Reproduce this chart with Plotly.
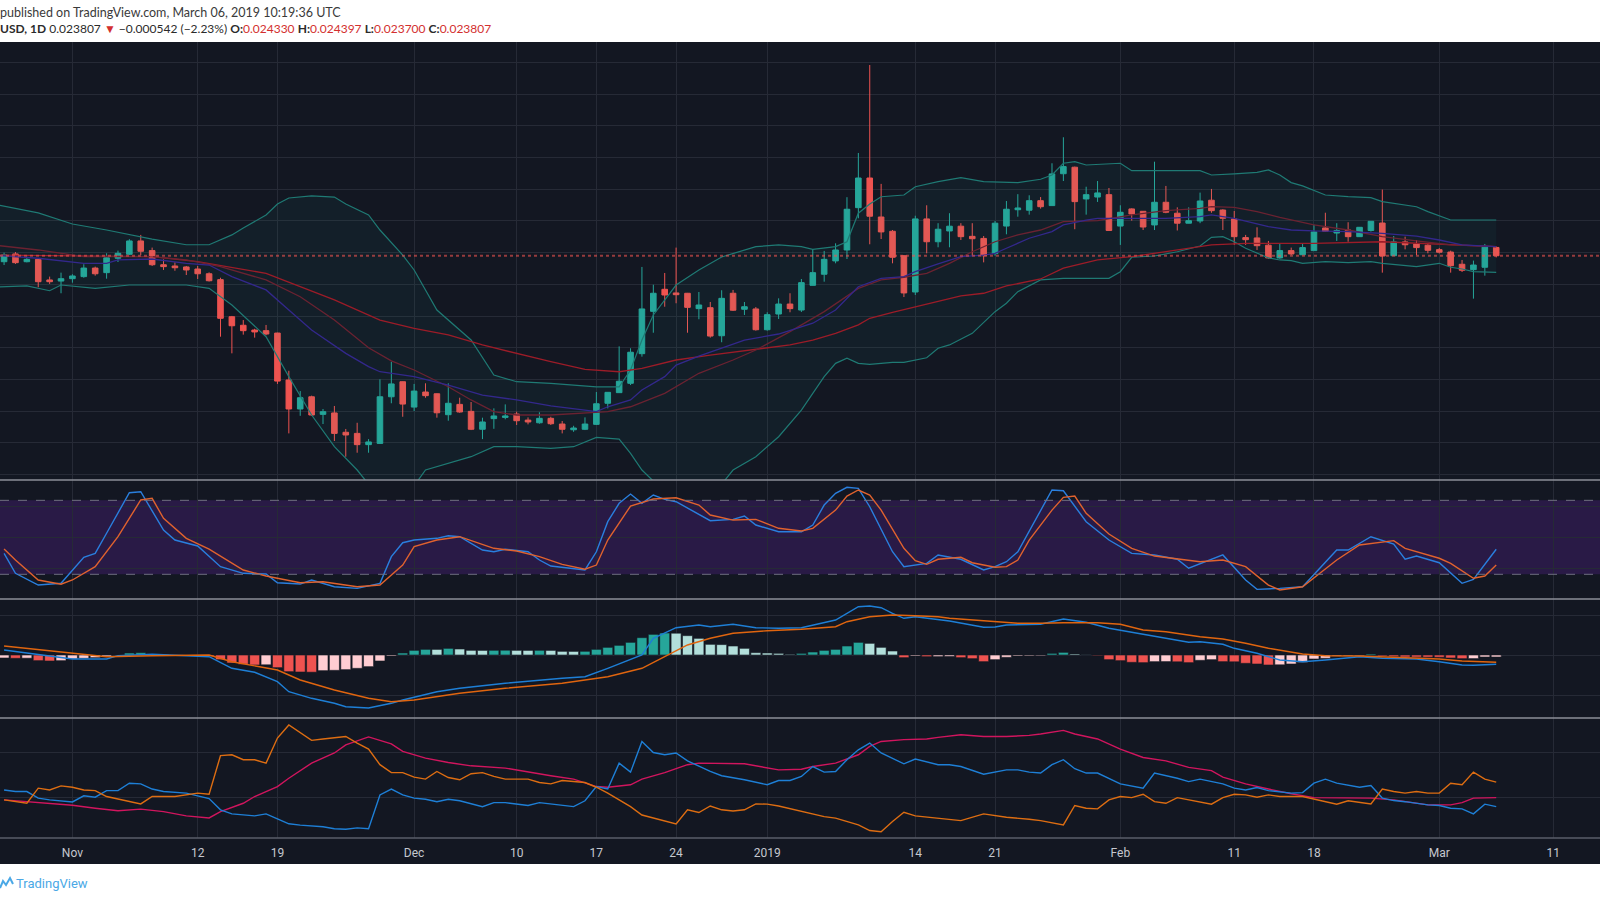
import pandas as pd
import plotly.graph_objects as go
from plotly.subplots import make_subplots

# ---------------- data ----------------
# daily candles, 2018-10-26 .. 2019-03-06
candle_start = "2018-10-26"
candle_end = "2019-03-06"
opens = [0.02343, 0.02392, 0.02343, 0.02358, 0.02228, 0.02221,
         0.02236, 0.02249, 0.02303, 0.02274, 0.02365, 0.02390, 0.02474, 0.02413, 0.02324, 0.02316,
         0.02310, 0.02297, 0.02267, 0.02230, 0.01996, 0.01942, 0.01912, 0.01908, 0.01893, 0.01597,
         0.01414, 0.01491, 0.01380, 0.01389, 0.01267, 0.01260, 0.01189, 0.01197, 0.01491, 0.01586,
         0.01426, 0.01521, 0.01510, 0.01378, 0.01443, 0.01399, 0.01286, 0.01353, 0.01361, 0.01382,
         0.01344, 0.01327, 0.01355, 0.01319, 0.01283, 0.01286, 0.01317, 0.01450, 0.01517, 0.01576,
         0.01763, 0.02030, 0.02169, 0.02146, 0.02144, 0.02047, 0.02053, 0.01876, 0.02144, 0.02043,
         0.02045,
         0.01914, 0.02013, 0.02076, 0.02038, 0.02194, 0.02264, 0.02348, 0.02417, 0.02684, 0.02871,
         0.02625, 0.02535, 0.02381, 0.02152, 0.02613, 0.02469, 0.02537, 0.02567, 0.02503, 0.02490,
         0.02394, 0.02568, 0.02671, 0.02668, 0.02728, 0.02697, 0.02898, 0.02939, 0.02739, 0.02751,
         0.02766,
         0.02568, 0.02676, 0.02661, 0.02575, 0.02718, 0.02649, 0.02586, 0.02600, 0.02731, 0.02669,
         0.02613, 0.02495, 0.02493, 0.02447, 0.02367, 0.02413, 0.02387, 0.02413, 0.02556, 0.02524,
         0.02543, 0.02501, 0.02540, 0.02587, 0.02381, 0.02468, 0.02455, 0.02447,
         0.02419, 0.02404, 0.02327, 0.02293, 0.02308, 0.024330]
highs = [0.02400, 0.02404, 0.02375, 0.02365, 0.02249, 0.02274,
         0.02264, 0.02327, 0.02312, 0.02396, 0.02413, 0.02485, 0.02512, 0.02432, 0.02358, 0.02339,
         0.02316, 0.02316, 0.02276, 0.02242, 0.02001, 0.01975, 0.01920, 0.01944, 0.01895, 0.01655,
         0.01527, 0.01498, 0.01414, 0.01433, 0.01288, 0.01327, 0.01224, 0.01601, 0.01712, 0.01588,
         0.01572, 0.01576, 0.01512, 0.01576, 0.01485, 0.01458, 0.01359, 0.01418, 0.01443, 0.01397,
         0.01361, 0.01393, 0.01365, 0.01338, 0.01308, 0.01361, 0.01521, 0.01521, 0.01809, 0.01797,
         0.02310, 0.02198, 0.02272, 0.02432, 0.02146, 0.02152, 0.02089, 0.02163, 0.02165, 0.02089,
         0.02057,
         0.02024, 0.02112, 0.02144, 0.02234, 0.02423, 0.02411, 0.02459, 0.02750, 0.03029, 0.03584,
         0.02834, 0.02543, 0.02385, 0.02633, 0.02699, 0.02586, 0.02649, 0.02586, 0.02586, 0.02505,
         0.02600, 0.02726, 0.02769, 0.02762, 0.02751, 0.02964, 0.03128, 0.02943, 0.02816, 0.02852,
         0.02808,
         0.02699, 0.02680, 0.02663, 0.02974, 0.02821, 0.02686, 0.02686, 0.02779, 0.02802, 0.02674,
         0.02663, 0.02512, 0.02560, 0.02474, 0.02455, 0.02432, 0.02455, 0.02577, 0.02652, 0.02586,
         0.02592, 0.02562, 0.02600, 0.02798, 0.02505, 0.02501, 0.02480, 0.02455,
         0.02430, 0.02413, 0.02354, 0.02350, 0.02455, 0.024397]
lows = [0.02322, 0.02329, 0.02339, 0.02182, 0.02203, 0.02144,
        0.02211, 0.02242, 0.02255, 0.02236, 0.02341, 0.02385, 0.02385, 0.02316, 0.02291, 0.02286,
        0.02259, 0.02234, 0.02218, 0.01870, 0.01765, 0.01883, 0.01864, 0.01879, 0.01572, 0.01260,
        0.01371, 0.01370, 0.01319, 0.01212, 0.01113, 0.01138, 0.01138, 0.01195, 0.01450, 0.01365,
        0.01401, 0.01485, 0.01359, 0.01340, 0.01390, 0.01281, 0.01224, 0.01289, 0.01349, 0.01313,
        0.01317, 0.01321, 0.01313, 0.01260, 0.01270, 0.01281, 0.01313, 0.01418, 0.01515, 0.01565,
        0.01744, 0.01895, 0.02059, 0.02081, 0.01895, 0.01980, 0.01864, 0.01835, 0.02032, 0.02007,
        0.01908,
        0.01908, 0.01982, 0.02024, 0.02026, 0.02193, 0.02217, 0.02333, 0.02360, 0.02617, 0.02453,
        0.02486, 0.02333, 0.02120, 0.02133, 0.02396, 0.02434, 0.02434, 0.02480, 0.02381, 0.02339,
        0.02381, 0.02516, 0.02627, 0.02640, 0.02678, 0.02695, 0.02852, 0.02548, 0.02640, 0.02720,
        0.02539,
        0.02449, 0.02602, 0.02543, 0.02543, 0.02649, 0.02540, 0.02585, 0.02586, 0.02652, 0.02543,
        0.02449, 0.02449, 0.02417, 0.02362, 0.02362, 0.02385, 0.02385, 0.02411, 0.02531, 0.02474,
        0.02469, 0.02499, 0.02533, 0.02274, 0.02379, 0.02421, 0.02385, 0.02396,
        0.02395, 0.02274, 0.02278, 0.02110, 0.02255, 0.023700]
closes = [0.02386, 0.02337, 0.02358, 0.02217, 0.02217, 0.02236,
          0.02253, 0.02303, 0.02267, 0.02368, 0.02396, 0.02474, 0.02409, 0.02324, 0.02312, 0.02305,
          0.02291, 0.02267, 0.02223, 0.01986, 0.01939, 0.01908, 0.01900, 0.01887, 0.01590, 0.01414,
          0.01485, 0.01376, 0.01397, 0.01260, 0.01250, 0.01189, 0.01206, 0.01491, 0.01572, 0.01445,
          0.01527, 0.01498, 0.01390, 0.01450, 0.01395, 0.01286, 0.01332, 0.01370, 0.01370, 0.01340,
          0.01332, 0.01355, 0.01321, 0.01286, 0.01294, 0.01319, 0.01447, 0.01519, 0.01589, 0.01772,
          0.02045, 0.02144, 0.02133, 0.02135, 0.02055, 0.02070, 0.01874, 0.02112, 0.02037, 0.02059,
          0.01914,
          0.02009, 0.02076, 0.02047, 0.02211, 0.02274, 0.02358, 0.02417, 0.02674, 0.02871, 0.02630,
          0.02531, 0.02371, 0.02146, 0.02613, 0.02469, 0.02548, 0.02567, 0.02501, 0.02488, 0.02381,
          0.02586, 0.02674, 0.02682, 0.02728, 0.02690, 0.02897, 0.02943, 0.02722, 0.02766, 0.02777,
          0.02540,
          0.02655, 0.02644, 0.02562, 0.02718, 0.02655, 0.02586, 0.02602, 0.02726, 0.02665, 0.02617,
          0.02501, 0.02482, 0.02444, 0.02367, 0.02413, 0.02392, 0.02432, 0.02531, 0.02535, 0.02540,
          0.02501, 0.02560, 0.02598, 0.02379, 0.02468, 0.02450, 0.02432, 0.02415,
          0.02403, 0.02318, 0.02289, 0.02322, 0.024349, 0.023807]
last_close = 0.023807

# indicator lines: x values are day offsets from this date
ref_day = "2018-11-01"

bb_up_day = [-7, -3, 0, 3, 7, 10, 12, 14, 15, 17, 18, 19, 21, 23, 24, 26, 27, 28, 29, 30,
             32, 35, 37, 39, 42, 46, 48, 49, 50, 51, 53, 55, 57, 60, 62, 64, 65, 67, 68, 69,
             70, 71, 73, 74, 76, 78, 80, 83, 85, 86, 87, 88, 89, 92, 93, 99, 100, 102, 104, 105,
             106, 107, 108, 110, 112, 114, 115, 118, 119, 121, 125]
bb_up = [0.02707, 0.02651, 0.02581, 0.02543, 0.02486, 0.0245, 0.0245, 0.02512, 0.02556, 0.02638,
         0.02707, 0.02745, 0.02758, 0.02751, 0.02707, 0.02638, 0.02543, 0.02461, 0.02385, 0.02291,
         0.02038, 0.01849, 0.01628, 0.01586, 0.01576, 0.01554, 0.01554, 0.0166, 0.01849, 0.02007,
         0.02196, 0.02291, 0.02373, 0.02438, 0.02449, 0.02438, 0.02421, 0.02438, 0.02469, 0.02649,
         0.02707, 0.02753, 0.02764, 0.02816, 0.02848, 0.02873, 0.02848, 0.02842, 0.02863, 0.0289,
         0.02964, 0.02974, 0.02953, 0.02964, 0.02917, 0.02917, 0.0289, 0.02897, 0.02907, 0.02922,
         0.0289, 0.02842, 0.02821, 0.02764, 0.02753, 0.02747, 0.02722, 0.0269, 0.02659, 0.02606,
         0.02606]
bb_lo_day = [-7, -4, -2, -1, 2, 5, 10, 12, 14, 17, 19, 21, 23, 25, 27, 29, 31, 32, 35, 37,
             39, 42, 44, 46, 48, 49, 50, 53, 56, 58, 60, 62, 64, 66, 67, 68, 69, 70, 72, 73,
             75, 76, 77, 79, 81, 82, 83, 85, 87, 91, 92, 93, 95, 97, 99, 100, 101, 102, 103, 105,
             106, 107, 108, 110, 112, 114, 115, 118, 120, 121, 122, 123, 125]
bb_lo = [0.02182, 0.0219, 0.0216, 0.02196, 0.02175, 0.02196, 0.02196, 0.02175, 0.0207, 0.0187,
         0.01618, 0.01376, 0.01176, 0.01029, 0.0085, 0.0083, 0.01029, 0.0105, 0.01113, 0.01176,
         0.01176, 0.01166, 0.01176, 0.01235, 0.01224, 0.01134, 0.01029, 0.0082, 0.0085, 0.01029,
         0.01113, 0.01239, 0.01407, 0.01618, 0.01702, 0.01734, 0.01702, 0.01696, 0.01708, 0.01708,
         0.01737, 0.01797, 0.01818, 0.01891, 0.02028, 0.02081, 0.02154, 0.02228, 0.02238, 0.02238,
         0.0228, 0.02371, 0.02379, 0.02406, 0.02442, 0.02497, 0.02501, 0.02469, 0.02428, 0.02367,
         0.02354, 0.0235, 0.02333, 0.02343, 0.02337, 0.02343, 0.02333, 0.02312, 0.02333, 0.02308,
         0.02297, 0.0228, 0.02276]

ma_fast_day = [-7, -3, 1, 3, 4, 7, 10, 12, 14, 17, 19, 21, 24, 26, 27, 29, 30, 33, 36, 39,
               42, 45, 46, 47, 49, 50, 52, 53, 55, 59, 62, 65, 67, 69, 71, 73, 74, 76, 78, 80,
               81, 82, 84, 86, 87, 89, 90, 93, 96, 99, 100, 102, 105, 107, 109, 112, 115, 118, 120, 122,
               125]
ma_fast = [0.02385, 0.02365, 0.02333, 0.02333, 0.02354, 0.0236, 0.02333, 0.02322, 0.02249, 0.02165,
           0.02038, 0.01912, 0.01765, 0.01681, 0.01649, 0.01628, 0.01618, 0.01565, 0.01502, 0.01471,
           0.01433, 0.01407, 0.01397, 0.01428, 0.01471, 0.01534, 0.01618, 0.01691, 0.01748, 0.01849,
           0.01887, 0.01955, 0.02038, 0.02185, 0.02238, 0.02249, 0.0228, 0.0233, 0.02375, 0.02385,
           0.02396, 0.02428, 0.02491, 0.02533, 0.02575, 0.02606, 0.02617, 0.02617, 0.02617, 0.02627,
           0.02638, 0.02617, 0.02564, 0.02543, 0.02537, 0.02533, 0.02522, 0.02505, 0.0248, 0.02449,
           0.02438]
ma_mid_day = [-7, -3, 1, 7, 10, 13, 17, 20, 23, 26, 28, 30, 33, 35, 37, 39, 42, 45, 47, 49,
              52, 55, 58, 60, 63, 66, 69, 71, 73, 75, 77, 79, 81, 83, 85, 87, 90, 93, 96, 99,
              100, 102, 104, 106, 109, 112, 115, 118, 121, 125]
ma_mid = [0.02449, 0.02417, 0.02375, 0.02375, 0.02354, 0.02312, 0.02228, 0.02122, 0.01975, 0.0180,
          0.01718, 0.0166, 0.01554, 0.01471, 0.01397, 0.01376, 0.01376, 0.01387, 0.01397, 0.01428,
          0.01513, 0.01639, 0.01723, 0.01786, 0.01902, 0.02028, 0.02175, 0.02228, 0.02245, 0.0227,
          0.02333, 0.02406, 0.02469, 0.02512, 0.02543, 0.02596, 0.02602, 0.02638, 0.02665, 0.0268,
          0.0269, 0.02686, 0.02659, 0.02623, 0.02575, 0.02543, 0.02501, 0.02474, 0.02449, 0.02438]
ma_slow_day = [-7, 7, 11, 17, 23, 26, 27, 30, 33, 36, 39, 42, 45, 48, 50, 53, 56, 60, 63, 65,
               67, 69, 70, 72, 74, 76, 78, 80, 82, 85, 87, 90, 93, 96, 99, 100, 103, 109, 115, 118,
               121, 125]
ma_slow = [0.02385, 0.02375, 0.02343, 0.0227, 0.02102, 0.02007, 0.01975, 0.01923, 0.01881, 0.01818,
           0.01765, 0.01712, 0.01664, 0.01649, 0.0167, 0.01723, 0.01754, 0.0179, 0.01818, 0.01849,
           0.01891, 0.01945, 0.01986, 0.02024, 0.02059, 0.02091, 0.02127, 0.02144, 0.0219, 0.02234,
           0.02302, 0.02354, 0.02375, 0.02406, 0.02438, 0.02449, 0.02459, 0.02459, 0.02469, 0.02459,
           0.02449, 0.02438]

# Stochastic RSI
stoch_k_day = [-6, -5, -3, -1, 1, 2, 3, 5, 6, 8, 9, 11, 13, 15, 17, 18, 20, 21, 23, 25,
               27, 28, 29, 30, 32, 33, 34, 36, 37, 38, 40, 41, 42, 45, 46, 47, 48, 49, 50, 51,
               52, 53, 56, 58, 59, 60, 62, 64, 65, 66, 67, 68, 69, 70, 72, 73, 75, 76, 78, 80,
               81, 82, 83, 86, 87, 89, 91, 93, 95, 97, 98, 101, 103, 104, 106, 108, 111, 112, 114, 116,
               117, 118, 120, 122, 123, 125]
stoch_k = [37.0, 20.8, 11.3, 12.7, 33.8, 37.0, 53.3, 86.2, 87.0, 55.9,
           47.8, 43.0, 26.2, 20.8, 20.2, 13.2, 12.1, 15.4, 9.9, 8.6,
           12.7, 34.3, 45.6, 47.8, 49.2, 51.3, 50.5, 39.7, 38.3, 40.3,
           38.3, 31.6, 26.7, 23.5, 38.3, 62.7, 77.6, 85.1, 77.6, 84.3,
           80.8, 78.9, 63.5, 64.6, 67.3, 60.0, 54.5, 54.5, 60.0, 76.2,
           85.7, 90.6, 89.7, 74.8, 38.3, 26.2, 28.9, 35.7, 32.2, 23.5,
           26.2, 30.2, 38.3, 88.4, 87.8, 62.7, 47.8, 37.0, 35.7, 32.2,
           24.9, 35.7, 15.4, 7.8, 8.6, 9.9, 39.7, 39.7, 50.5, 44.6,
           32.2, 34.8, 29.4, 12.7, 15.9, 40.3]
stoch_d_day = [-6, -5, -3, -1, 0, 2, 4, 6, 7, 8, 10, 12, 15, 17, 20, 22, 25, 27, 29, 30,
               32, 34, 37, 39, 41, 43, 45, 46, 47, 49, 51, 53, 55, 56, 58, 60, 62, 64, 65, 67,
               68, 69, 70, 71, 73, 74, 75, 76, 78, 79, 81, 82, 83, 84, 86, 87, 88, 89, 91, 93,
               95, 97, 99, 101, 103, 105, 106, 108, 111, 113, 116, 117, 120, 121, 123, 124, 125]
stoch_d = [40.5, 31.6, 15.4, 12.0, 15.4, 26.2, 50.5, 80.3, 81.6, 65.4,
           49.2, 40.5, 23.5, 18.6, 13.2, 14.0, 9.9, 11.3, 27.5, 42.4,
           47.8, 50.5, 41.1, 38.9, 34.3, 28.1, 24.1, 27.5, 47.8, 75.4,
           81.1, 82.1, 76.2, 68.1, 64.0, 64.6, 57.3, 55.1, 57.3, 72.1,
           83.5, 88.4, 84.3, 72.1, 41.1, 31.0, 28.1, 32.2, 33.8, 29.4,
           25.7, 26.2, 31.6, 47.8, 72.1, 82.4, 83.5, 69.5, 52.7, 41.1,
           34.8, 32.2, 30.2, 31.6, 26.2, 11.3, 7.3, 9.9, 31.6, 43.8,
           47.3, 41.1, 33.0, 28.9, 16.8, 18.6, 27.5]

# MACD
macd_day = [-6, -4, -2, 0, 3, 4, 7, 12, 14, 16, 18, 19, 21, 23, 24, 26, 28, 29, 32, 34,
            38, 43, 45, 47, 50, 51, 53, 55, 56, 58, 60, 62, 64, 67, 69, 70, 71, 72, 73, 74,
            75, 77, 80, 81, 82, 85, 87, 89, 91, 93, 95, 98, 99, 101, 102, 104, 106, 108, 110, 112,
            113, 115, 118, 120, 122, 123, 125]
macd = [0.00025, 0.000085, -0.00005, -0.0002, -0.0002, -0.000035, 0.000035, -0.000085, -0.000665, -0.000865,
        -0.001335, -0.001835, -0.002165, -0.002415, -0.002585, -0.00265, -0.002415, -0.00225, -0.001835, -0.001665,
        -0.001415, -0.001165, -0.001085, -0.000665, 0.0, 0.000835, 0.001365, 0.0015, 0.001415, 0.001535,
        0.001365, 0.001335, 0.001365, 0.00175, 0.002415, 0.00245, 0.002365, 0.002085, 0.001835, 0.001915,
        0.001835, 0.0017, 0.001385, 0.0014, 0.0015, 0.001535, 0.0018, 0.001635, 0.001335, 0.001135,
        0.000915, 0.000635, 0.000665, 0.000535, 0.000335, 0.000085, -0.00025, -0.000335, -0.00025, -0.000135,
        -0.000085, -0.000165, -0.0002, -0.000335, -0.0005, -0.000515, -0.000465]
signal_day = [-6, -4, -1, 3, 7, 12, 14, 18, 20, 23, 26, 28, 30, 34, 38, 43, 47, 50, 52, 54,
              56, 58, 61, 64, 67, 68, 70, 72, 74, 76, 77, 80, 83, 85, 87, 90, 92, 94, 96, 99,
              101, 103, 105, 108, 110, 113, 118, 120, 122, 125]
signal = [0.00045, 0.000335, 0.000165, -0.000085, -0.000035, 0.0, -0.000335, -0.00075, -0.00125, -0.00175,
          -0.002165, -0.002335, -0.00225, -0.001915, -0.001665, -0.001415, -0.001085, -0.000665, -0.000085, 0.0005,
          0.000835, 0.001085, 0.001215, 0.001285, 0.001415, 0.001665, 0.001915, 0.002, 0.001965, 0.001915,
          0.001835, 0.001715, 0.001585, 0.001585, 0.001615, 0.001615, 0.001535, 0.00125, 0.001165, 0.000915,
          0.0008, 0.000585, 0.000335, 0.00005, -0.000035, -0.00005, -0.000135, -0.0002, -0.0003, -0.000365]
# one histogram bar per candle
macd_hist = [-0.00015, -0.000167, -0.00016, -0.000283, -0.0003, -0.000283,
             -0.0002, -0.000167, -0.000133, -0.000067, -0.00001, 0.0001, 0.000117, 0.000033, 0.00002, -0.000017,
             -0.000017, -0.000033, -0.000067, -0.000233, -0.0004, -0.000467, -0.0005, -0.00049, -0.000633, -0.000833,
             -0.00085, -0.00086, -0.000783, -0.000767, -0.000733, -0.000667, -0.000583, -0.0003, -0.00005, 0.0001,
             0.000233, 0.000283, 0.00028, 0.000333, 0.0003, 0.000233, 0.00023, 0.000235, 0.00024, 0.000233,
             0.00023, 0.000235, 0.00023, 0.000183, 0.00018, 0.000185, 0.000283, 0.000383, 0.000483, 0.000633,
             0.000867, 0.001033, 0.0011, 0.00109, 0.000967, 0.000833, 0.000533, 0.00052, 0.00045, 0.000333,
             0.000117,
             0.0001, 0.000083, 0.000033, 0.000083, 0.00015, 0.000233, 0.000283, 0.00045, 0.000633, 0.000583,
             0.000383, 0.0002, -0.000133, -0.00005, -0.000083, -0.00008, -0.000075, -0.000133, -0.000183, -0.000333,
             -0.000233, -0.000117, -0.00005, -0.000045, -0.00004, 0.000083, 0.000133, 0.00005, 0.00001, -0.000033,
             -0.000233,
             -0.000283, -0.000367, -0.000383, -0.000333, -0.00033, -0.00034, -0.000383, -0.000267, -0.000233, -0.000333,
             -0.00034, -0.000417, -0.00045, -0.0005, -0.00049, -0.00045, -0.000367, -0.0002, -0.000167, -0.00005,
             -0.000045, -0.00004, 0.00005, -0.00005, -0.000083, -0.0001, -0.000105, -0.00011,
             -0.000115, -0.00015, -0.000183, -0.00018, -0.0001, -0.0001]

# DMI
adx_day = [-6, -4, -2, 0, 2, 4, 6, 8, 10, 12, 13, 15, 16, 18, 19, 21, 23, 24, 26, 28,
           29, 31, 33, 35, 38, 40, 42, 44, 46, 47, 49, 50, 52, 54, 55, 59, 60, 62, 64, 65,
           67, 69, 70, 71, 73, 75, 76, 78, 80, 82, 84, 85, 87, 88, 90, 92, 94, 96, 98, 100,
           101, 103, 105, 107, 109, 111, 114, 116, 118, 119, 121, 122, 123, 125]
adx = [18.8, 18.0, 17.0, 16.4, 15.1, 14.0, 14.7, 13.6, 11.7, 10.8,
       13.6, 17.3, 20.3, 24.7, 28.4, 35.1, 39.6, 43.2, 46.7, 43.6,
       40.3, 37.3, 35.4, 33.9, 32.9, 31.1, 29.5, 28.0, 24.7, 24.4,
       25.5, 28.0, 30.9, 34.4, 35.1, 34.8, 33.9, 32.1, 32.4, 33.6,
       35.1, 38.8, 42.5, 44.7, 45.5, 45.8, 46.5, 47.7, 46.9, 46.9,
       47.4, 48.0, 49.6, 48.0, 45.8, 41.3, 37.6, 36.1, 33.2, 31.8,
       28.9, 25.9, 23.6, 21.5, 19.8, 19.8, 19.6, 18.8, 17.3, 16.6,
       16.6, 17.6, 19.6, 19.8]
plus_di_day = [-6, -5, -4, -3, -2, 0, 1, 2, 3, 4, 5, 6, 7, 8, 10, 11, 12, 13, 14, 16,
               17, 18, 19, 20, 22, 23, 24, 25, 26, 27, 28, 29, 30, 31, 32, 33, 34, 36, 37, 38,
               40, 41, 42, 43, 44, 45, 46, 47, 48, 49, 50, 51, 52, 53, 54, 56, 57, 59, 61, 62,
               63, 64, 65, 66, 67, 68, 69, 70, 71, 73, 74, 76, 77, 78, 80, 82, 83, 84, 85, 86,
               87, 88, 89, 90, 92, 94, 95, 97, 98, 99, 100, 101, 102, 103, 104, 105, 107, 108, 109, 110,
               111, 112, 113, 114, 115, 116, 117, 119, 120, 121, 122, 123, 124, 125]
plus_di = [23.2, 22.5, 22.5, 19.6, 18.8, 17.9, 20.6, 20.0, 22.9, 22.9,
           26.2, 25.9, 23.6, 22.5, 21.8, 20.6, 19.4, 14.4, 12.6, 11.7,
           12.6, 10.4, 8.2, 7.6, 6.9, 6.0, 5.8, 6.4, 6.0, 21.0,
           23.6, 21.0, 19.6, 19.1, 18.0, 19.1, 18.4, 15.8, 17.6, 17.6,
           16.3, 17.6, 16.9, 16.4, 15.8, 18.4, 24.7, 23.6, 35.1, 31.1,
           44.7, 39.8, 38.8, 39.6, 36.1, 31.4, 29.5, 27.7, 25.5, 27.4,
           27.4, 29.2, 33.6, 31.1, 31.4, 36.6, 41.0, 44.0, 39.6, 34.8,
           36.9, 34.4, 34.4, 33.6, 30.2, 32.1, 32.1, 31.1, 30.7, 34.4,
           36.6, 32.6, 30.7, 30.7, 25.9, 24.0, 30.7, 28.4, 26.9, 28.0,
           26.9, 25.9, 24.0, 23.2, 24.3, 22.9, 21.8, 22.0, 26.2, 28.0,
           26.2, 25.2, 24.4, 25.2, 19.6, 18.5, 18.0, 16.6, 16.3, 15.1,
           14.8, 12.6, 16.9, 15.8]
minus_di_day = [-6, -5, -4, -3, -2, -1, 0, 1, 2, 3, 4, 6, 7, 8, 9, 11, 12, 13, 14, 15,
                16, 17, 18, 19, 20, 21, 22, 24, 25, 26, 27, 28, 29, 30, 31, 32, 33, 34, 35, 36,
                37, 38, 40, 41, 42, 43, 45, 46, 47, 48, 49, 50, 51, 53, 54, 55, 56, 57, 58, 59,
                60, 61, 62, 64, 66, 67, 69, 70, 71, 72, 73, 74, 76, 78, 80, 82, 84, 85, 87, 88,
                89, 90, 91, 92, 93, 94, 95, 96, 97, 98, 100, 101, 102, 103, 104, 105, 106, 108, 110, 111,
                112, 114, 115, 116, 117, 118, 119, 120, 121, 122, 123, 124, 125]
minus_di = [18.8, 18.0, 17.3, 24.0, 23.2, 25.0, 24.4, 23.2, 22.9, 20.3,
            19.1, 17.0, 20.3, 20.3, 20.3, 21.8, 21.3, 38.4, 38.8, 36.6,
            36.6, 35.1, 46.2, 52.0, 48.4, 45.2, 45.8, 46.9, 44.0, 41.3,
            34.4, 30.9, 30.9, 28.9, 28.0, 31.4, 28.7, 27.7, 30.4, 30.9,
            29.2, 28.0, 28.0, 26.5, 25.9, 27.4, 26.5, 24.4, 21.8, 18.8,
            15.8, 12.1, 10.7, 8.1, 14.4, 13.2, 16.1, 14.4, 13.9, 14.4,
            17.0, 16.9, 16.1, 13.9, 11.4, 10.7, 7.7, 5.2, 4.7, 9.2,
            13.3, 11.7, 10.7, 9.6, 12.6, 11.1, 10.2, 9.6, 7.7, 16.3,
            15.1, 14.8, 18.8, 20.3, 19.8, 21.3, 18.0, 17.3, 19.8, 18.8,
            16.9, 19.8, 21.3, 21.0, 20.0, 21.0, 20.3, 20.3, 18.0, 16.9,
            18.4, 17.0, 23.6, 22.5, 21.8, 22.5, 21.8, 21.8, 26.2, 25.5,
            31.1, 28.0, 26.7]

# axis labels / grid
tick_dates = ["2018-11-01", "2018-11-12", "2018-11-19", "2018-12-01", "2018-12-10", "2018-12-17",
              "2018-12-24", "2019-01-01", "2019-01-14", "2019-01-21", "2019-02-01", "2019-02-11",
              "2019-02-18", "2019-03-01", "2019-03-11"]
tick_text = ["Nov", "12", "19", "Dec", "10", "17", "24", "2019", "14", "21", "Feb", "11", "18", "Mar", "11"]
price_grid = [0.010, 0.012, 0.014, 0.016, 0.018, 0.020, 0.022, 0.024, 0.026, 0.028, 0.030, 0.032, 0.034, 0.036]


# ---------------- figure ----------------
def to_dates(days):
    return pd.Timestamp(ref_day) + pd.to_timedelta(days, unit="D")


def px_x(px):
    return px / 1600


def px_y(py):
    return (838 - py) / 796


dates = pd.date_range(candle_start, candle_end, freq="D")

BG = "#131722"
GRID = "#262a36"

fig = make_subplots(rows=4, cols=1, shared_xaxes=True, vertical_spacing=0,
                    row_heights=[438, 119, 119, 120])

# Bollinger bands
fig.add_trace(go.Scatter(x=to_dates(bb_up_day), y=bb_up, mode="lines",
                         line=dict(color="#1f7a74", width=1.2)), row=1, col=1)
fig.add_trace(go.Scatter(x=to_dates(bb_lo_day), y=bb_lo, mode="lines", fill="tonexty",
                         fillcolor="rgba(38,166,154,0.06)",
                         line=dict(color="#1f7a74", width=1.2)), row=1, col=1)
# moving averages
fig.add_trace(go.Scatter(x=to_dates(ma_slow_day), y=ma_slow, mode="lines",
                         line=dict(color="#9c1c28", width=1.3)), row=1, col=1)
fig.add_trace(go.Scatter(x=to_dates(ma_mid_day), y=ma_mid, mode="lines",
                         line=dict(color="#6b2231", width=1.3)), row=1, col=1)
fig.add_trace(go.Scatter(x=to_dates(ma_fast_day), y=ma_fast, mode="lines",
                         line=dict(color="#33288c", width=1.3)), row=1, col=1)
# candles
fig.add_trace(go.Candlestick(x=dates, open=opens, high=highs, low=lows, close=closes,
                             increasing=dict(line=dict(color="#26a69a", width=1), fillcolor="#26a69a"),
                             decreasing=dict(line=dict(color="#ef5350", width=1), fillcolor="#ef5350"),
                             whiskerwidth=0), row=1, col=1)

# Stoch RSI
fig.add_trace(go.Scatter(x=to_dates(stoch_k_day), y=stoch_k, mode="lines",
                         line=dict(color="#2a7fde", width=1.4)), row=2, col=1)
fig.add_trace(go.Scatter(x=to_dates(stoch_d_day), y=stoch_d, mode="lines",
                         line=dict(color="#e0622e", width=1.4)), row=2, col=1)

# MACD
hist_colors = []
prev = macd_hist[0]
for v in macd_hist:
    if v >= 0:
        hist_colors.append("#26a69a" if v > prev else "#b2dfdb")
    else:
        hist_colors.append("#ef5350" if v < prev else "#ffcdd2")
    prev = v
fig.add_trace(go.Bar(x=dates, y=macd_hist, marker=dict(color=hist_colors, line=dict(width=0.6, color=BG))),
              row=3, col=1)
fig.add_trace(go.Scatter(x=to_dates(macd_day), y=macd, mode="lines",
                         line=dict(color="#1e7fd6", width=1.4)), row=3, col=1)
fig.add_trace(go.Scatter(x=to_dates(signal_day), y=signal, mode="lines",
                         line=dict(color="#e0650f", width=1.4)), row=3, col=1)

# DMI
fig.add_trace(go.Scatter(x=to_dates(adx_day), y=adx, mode="lines",
                         line=dict(color="#d1155e", width=1.4)), row=4, col=1)
fig.add_trace(go.Scatter(x=to_dates(plus_di_day), y=plus_di, mode="lines",
                         line=dict(color="#1e7fd6", width=1.4)), row=4, col=1)
fig.add_trace(go.Scatter(x=to_dates(minus_di_day), y=minus_di, mode="lines",
                         line=dict(color="#dd6d12", width=1.4)), row=4, col=1)

fig.update_layout(width=1600, height=900, margin=dict(l=0, r=0, t=42, b=62),
                  paper_bgcolor="white", plot_bgcolor=BG, showlegend=False,
                  bargap=0.12, font=dict(family="Lato, Open Sans, sans-serif"))

fig.update_xaxes(range=["2018-10-25 15:26", "2019-03-15 02:40"], tickvals=tick_dates, ticktext=tick_text,
                 showgrid=True, gridcolor=GRID, gridwidth=1, zeroline=False, showline=False,
                 showticklabels=False, rangeslider_visible=False)
fig.update_xaxes(showticklabels=True, ticks="outside", ticklen=4, tickcolor="rgba(0,0,0,0)",
                 tickfont=dict(family="Liberation Sans Narrow, Roboto, sans-serif", size=12, color="#c5c8cf"),
                 row=4, col=1)
fig.update_yaxes(showticklabels=False, showgrid=True, gridcolor=GRID, gridwidth=1, zeroline=False)
fig.update_yaxes(range=[0.00966, 0.03729], tickvals=price_grid, row=1, col=1)
fig.update_yaxes(range=[-0.03, 96.5], tickvals=[25, 50, 75], row=2, col=1)
fig.update_yaxes(range=[-0.00315, 0.0028], tickvals=[-0.002, 0, 0.002], row=3, col=1)
fig.update_yaxes(range=[1.9, 55.1], tickvals=[20, 40], row=4, col=1)

shapes = [
    # time axis strip
    dict(type="rect", xref="paper", yref="paper", x0=0, x1=1, y0=px_y(864), y1=0,
         fillcolor=BG, line=dict(width=0), layer="below"),
    # stoch band
    dict(type="rect", xref="paper", yref="y2", x0=0, x1=1, y0=20, y1=80,
         fillcolor="rgba(123,40,200,0.22)", line=dict(width=0), layer="between"),
    dict(type="line", xref="paper", yref="y2", x0=0, x1=1, y0=80, y1=80,
         line=dict(color="#6f6f80", width=1, dash="dash")),
    dict(type="line", xref="paper", yref="y2", x0=0, x1=1, y0=20, y1=20,
         line=dict(color="#6f6f80", width=1, dash="dash")),
    # last price line
    dict(type="line", xref="paper", yref="y", x0=0, x1=1, y0=last_close, y1=last_close,
         line=dict(color="rgba(239,83,80,0.6)", width=2, dash="dot")),
]
for py in (480, 599, 718):
    shapes.append(dict(type="line", xref="paper", yref="paper", x0=0, x1=1, y0=px_y(py), y1=px_y(py),
                       line=dict(color="#8c8f99", width=1.5)))
shapes.append(dict(type="line", xref="paper", yref="paper", x0=0, x1=1, y0=0, y1=0,
                   line=dict(color="#5a5e6a", width=1.5)))
# TradingView logo glyph
logo = [(0, 888), (3, 881), (6, 885), (10, 878), (13, 884)]
path = "M " + " L ".join(f"{px_x(a)} {px_y(b)}" for a, b in logo)
shapes.append(dict(type="path", xref="paper", yref="paper", path=path,
                   line=dict(color="#4aa8e6", width=2)))
fig.update_layout(shapes=shapes)

red = "#d32f2f"
header2 = ("<b>USD, 1D</b> 0.023807 <span style='color:%s'>▼</span> −0.000542 (−2.23%%) "
           "<b>O:</b><span style='color:%s'>0.024330</span> <b>H:</b><span style='color:%s'>0.024397</span> "
           "<b>L:</b><span style='color:%s'>0.023700</span> <b>C:</b><span style='color:%s'>0.023807</span>"
           % (red, red, red, red, red))
fig.add_annotation(text="published on TradingView.com, March 06, 2019 10:19:36 UTC",
                   xref="paper", yref="paper", x=0, y=px_y(12), xanchor="left", yanchor="middle",
                   showarrow=False, xshift=-2, font=dict(size=12.5, color="#3a3a3a"))
fig.add_annotation(text=header2, xref="paper", yref="paper", x=0, y=px_y(28.5), xanchor="left",
                   yanchor="middle", showarrow=False, xshift=-2, font=dict(size=12, color="#2b2b2b"))
fig.add_annotation(text="TradingView", xref="paper", yref="paper", x=px_x(14), y=px_y(883),
                   xanchor="left", yanchor="middle", showarrow=False,
                   font=dict(family="Liberation Sans Narrow, Roboto, sans-serif", size=13, color="#4aa8e6"))

# the page body has a default 8px margin; remove it so the figure fills the window
fig.write_html("out.html", config={"displayModeBar": False},
               post_script="document.body.style.margin='0';")
